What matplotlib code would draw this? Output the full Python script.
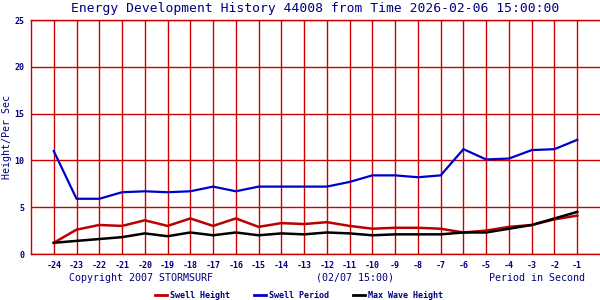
import matplotlib
matplotlib.use("Agg")
import matplotlib.pyplot as plt
from matplotlib.lines import Line2D

plt.rcParams["axes.unicode_minus"] = False

# hours before the reference time
hours = list(range(-24, 0))
# readings
swell_height = [1.2, 2.6, 3.1, 3.0, 3.6, 3.0, 3.8, 3.0, 3.8, 2.9, 3.3, 3.2,
                3.4, 3.0, 2.7, 2.8, 2.8, 2.7, 2.3, 2.5, 2.9, 3.1, 3.7, 4.1]
swell_period = [11.0, 5.9, 5.9, 6.6, 6.7, 6.6, 6.7, 7.2, 6.7, 7.2, 7.2, 7.2,
                7.2, 7.7, 8.4, 8.4, 8.2, 8.4, 11.2, 10.1, 10.2, 11.1, 11.2, 12.2]
max_wave = [1.2, 1.4, 1.6, 1.8, 2.2, 1.9, 2.3, 2.0, 2.3, 2.0, 2.2, 2.1,
            2.3, 2.2, 2.0, 2.1, 2.1, 2.1, 2.3, 2.3, 2.7, 3.1, 3.8, 4.5]
y_ticks = [0, 5, 10, 15, 20, 25]

navy = "#000080"
grid_red = "#cc0000"
mono = "DejaVu Sans Mono"

fig = plt.figure(figsize=(6, 3), dpi=100)
ax = fig.add_axes([31/600, 46/300, 569/600, 234/300])

ax.set_xlim(-25, 0)
ax.set_ylim(0, 25)
ax.set_xticks(hours)
ax.set_yticks(y_ticks)
ax.grid(True, color=grid_red, lw=1.0)
ax.set_axisbelow(True)
for side in ["top", "left", "bottom"]:
    ax.spines[side].set_color(grid_red)
    ax.spines[side].set_linewidth(1.0)
ax.spines["right"].set_visible(False)
ax.tick_params(length=0, pad=5, labelcolor=navy, labelsize=6)
for lab in ax.get_xticklabels() + ax.get_yticklabels():
    lab.set_family(mono)
    lab.set_fontweight("bold")

ax.plot(hours, swell_height, color="#bb0000", lw=1.8)
ax.plot(hours, swell_period, color="#0000cc", lw=1.6)
ax.plot(hours, max_wave, color="black", lw=1.8)

fig.text(0.525, 0.972, "Energy Development History 44008 from Time 2026-02-06 15:00:00",
         ha="center", va="center", color=navy, family=mono, fontsize=9.4)
fig.text(0.012, 0.543, "Height/Per Sec", rotation=90, ha="center", va="center",
         color=navy, family=mono, fontsize=7.2)
fig.text(69/600, 1 - 278/300, "Copyright 2007 STORMSURF", ha="left", va="center",
         color=navy, family=mono, fontsize=7.2)
fig.text(316/600, 1 - 278/300, "(02/07 15:00)", ha="left", va="center",
         color=navy, family=mono, fontsize=7.2)
fig.text(585/600, 1 - 278/300, "Period in Second", ha="right", va="center",
         color=navy, family=mono, fontsize=7.2)

# legend row
legend_items = [("Swell Height", "#bb0000", 155), ("Swell Period", "#0000cc", 254),
                ("Max Wave Height", "black", 353)]
ly = 1 - 295/300
for name, col, x0 in legend_items:
    fig.add_artist(Line2D([x0/600, (x0 + 12)/600], [ly, ly], color=col, lw=2,
                          transform=fig.transFigure))
    fig.text((x0 + 15)/600, ly, name, ha="left", va="center", color=navy,
             family=mono, fontsize=6, fontweight="bold")

fig.savefig("out.png", dpi=100, facecolor="white")
